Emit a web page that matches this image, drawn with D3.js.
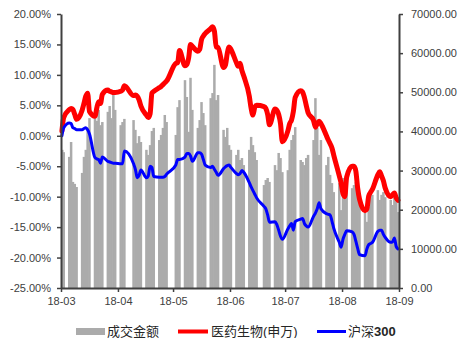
<!DOCTYPE html>
<html><head><meta charset="utf-8">
<script src="https://cdn.jsdelivr.net/npm/d3@7"></script>
<style>
html,body{margin:0;padding:0;background:#fff;}
svg{display:block;}
text{font-family:"Liberation Sans",Arial,"Noto Sans CJK SC",sans-serif;}
</style></head>
<body>
<svg id="chart" width="460" height="338"></svg>
<script>
// trading days (2018, month/day)
const dates = [
 "3/1","3/2","3/5","3/6","3/7","3/8","3/9","3/12","3/13","3/14","3/15","3/16","3/19","3/20","3/21","3/22","3/23","3/26","3/27","3/28","3/29","3/30",
 "4/2","4/3","4/4","4/9","4/10","4/11","4/12","4/13","4/16","4/17","4/18","4/19","4/20","4/23","4/24","4/25","4/26","4/27",
 "5/2","5/3","5/4","5/7","5/8","5/9","5/10","5/11","5/14","5/15","5/16","5/17","5/18","5/21","5/22","5/23","5/24","5/25","5/28","5/29","5/30","5/31",
 "6/1","6/4","6/5","6/6","6/7","6/8","6/11","6/12","6/13","6/14","6/15","6/19","6/20","6/21","6/22","6/25","6/26","6/27","6/28","6/29",
 "7/2","7/3","7/4","7/5","7/6","7/9","7/10","7/11","7/12","7/13","7/16","7/17","7/18","7/19","7/20","7/23","7/24","7/25","7/26","7/27","7/30","7/31",
 "8/1","8/2","8/3","8/6","8/7","8/8","8/9","8/10","8/13","8/14","8/15","8/16","8/17","8/20","8/21","8/22","8/23","8/24","8/27","8/28","8/29","8/30","8/31"
];
// 成交金额 (right axis)
const turnover = [
 35300,34700,33500,37300,27100,26600,25800,29400,33500,35300,40900,43400,43400,42700,45500,41600,42400,45000,46500,43400,49300,45500,
 41600,42400,43200,42900,40400,37000,38800,37300,35300,34000,36500,40100,40900,37800,39100,40900,44200,42400,
 39100,46200,48000,53100,48800,39900,53700,45500,40900,42900,47500,44700,41600,48500,49800,57000,48000,49300,40400,38600,40900,36500,
 35300,34000,35300,32700,33200,31400,35300,38600,36500,34700,32700,26300,27600,28100,27100,31400,30100,34500,33200,29600,
 30100,35300,37800,39100,41100,32700,32200,31400,33200,34000,37800,48500,40900,34000,37800,31400,33500,28900,26800,24500,26800,19900,
 28100,27100,25000,25500,26300,27100,23200,22500,19200,16900,20700,24300,23800,25000,22500,23800,24500,23200,22500,21200,23000,22500,19400
];
// 医药生物(申万) cumulative return, %
const pharma = [
 0.8,3.0,4.3,4.5,4.3,3.5,2.7,4.2,5.3,6.5,7.0,4.0,3.2,4.6,5.6,5.3,6.8,7.5,7.3,7.2,7.1,7.1,
 7.3,7.5,8.2,6.6,6.7,6.5,5.9,4.9,3.4,3.0,3.6,7.0,7.3,7.9,8.1,8.4,8.7,9.0,
 11.9,12.0,14.0,11.5,11.7,12.8,15.0,14.7,13.9,14.2,15.8,16.4,16.8,17.6,17.9,17.2,14.6,14.5,11.2,11.6,13.5,14.6,
 14.2,12.0,11.4,11.9,10.7,9.8,6.5,4.5,3.4,4.7,5.0,4.8,4.5,3.5,1.8,4.4,4.2,3.5,2.0,-1.0,
 0.8,2.0,2.6,4.0,6.3,7.4,7.2,6.3,5.0,3.8,2.5,1.4,2.0,2.4,2.0,0.0,-0.7,-1.3,-2.0,-3.2,-6.6,-7.8,
 -9.5,-10.0,-6.8,-5.0,-5.0,-5.8,-8.6,-10.4,-12.3,-12.0,-9.9,-9.3,-8.8,-6.4,-5.9,-6.6,-7.4,-8.6,-10.0,-9.7,-9.4,-10.2,-10.6
];
// 沪深300 cumulative return, %
const hs300 = [
 0.0,1.3,2.1,2.0,1.3,1.2,1.0,1.0,1.2,1.3,1.0,0.3,-3.6,-3.8,-3.9,-4.5,-3.5,-4.2,-4.3,-4.4,-4.5,-4.5,
 -4.6,-4.6,-2.5,-4.6,-5.5,-6.9,-6.5,-5.6,-6.9,-6.6,-5.0,-5.2,-6.7,-6.8,-6.8,-6.8,-6.7,-6.3,
 -4.8,-3.9,-3.9,-3.5,-2.9,-2.9,-3.3,-4.2,-2.8,-2.8,-3.0,-3.9,-4.8,-5.2,-5.0,-5.5,-6.0,-6.5,-5.4,-5.1,-4.9,-4.8,
 -5.2,-6.2,-6.4,-6.2,-5.7,-6.0,-7.7,-8.4,-9.0,-9.6,-10.2,-11.6,-12.0,-13.0,-14.2,-14.1,-14.6,-15.5,-16.5,-17.0,
 -15.3,-14.8,-14.4,-15.5,-14.1,-13.7,-13.6,-14.4,-14.8,-15.0,-13.2,-12.7,-12.0,-11.0,-12.0,-12.8,-12.9,-13.0,-14.0,-15.2,-17.5,-18.3,
 -17.0,-16.2,-15.6,-15.8,-16.2,-17.3,-18.5,-19.5,-19.7,-18.6,-17.9,-17.7,-17.5,-15.7,-15.5,-15.5,-16.2,-16.7,-17.5,-17.4,-16.8,-18.2,-18.6
];
const leftTicks = [-0.25,-0.20,-0.15,-0.10,-0.05,0,0.05,0.10,0.15,0.20];
const rightTicks = [0,10000,20000,30000,40000,50000,60000,70000];
const seriesNames = ["成交金额","医药生物(申万)","沪深300"];

const parse = d3.timeParse("%Y/%m/%d");
const days = dates.map(s => parse("2018/" + s));
const rows = days.map((d,i) => ({date:d, vol:turnover[i], ph:pharma[i]/100, hs:hs300[i]/100}));

const svg = d3.select("#chart");
const L = 61, R = 399, T = 14, B = 288;
const x = d3.scaleTime().domain([new Date(2018,2,1), new Date(2018,8,1)]).range([L, R]);
const dayW = x(new Date(2018,2,2)) - x(new Date(2018,2,1));
const barW = 2.5;
const yL = d3.scaleLinear().domain([-0.25, 0.20]).range([B, T]);
const yR = d3.scaleLinear().domain([0, 70000]).range([B, T]);

// bars
svg.append("g").selectAll("rect").data(rows).join("rect")
  .attr("x", d => Math.max(L, x(d.date) + dayW/2 - barW/2))
  .attr("width", barW)
  .attr("y", d => yR(d.vol))
  .attr("height", d => yR(0) - yR(d.vol))
  .attr("fill", "#ababab");

const lineGen = key => d3.line()
  .x(d => x(d.date) + dayW/2)
  .y(d => yL(d[key]))
  .curve(d3.curveMonotoneX);

svg.append("path").datum(rows).attr("d", lineGen("ph"))
  .attr("fill","none").attr("stroke","#ff0000").attr("stroke-width",5)
  .attr("stroke-linejoin","round").attr("stroke-linecap","round");
svg.append("path").datum(rows).attr("d", lineGen("hs"))
  .attr("fill","none").attr("stroke","#0000ff").attr("stroke-width",3)
  .attr("stroke-linejoin","round").attr("stroke-linecap","round");

const axisColor = "#404040";
function styleAxis(g){
  g.select(".domain").attr("stroke", axisColor).attr("stroke-width", 2);
  g.selectAll(".tick line").attr("stroke", axisColor).attr("stroke-width", 1.5);
  g.selectAll(".tick text").attr("fill", "#404040").style("font-size","11px")
   .style("font-family", '"Liberation Sans",Arial,sans-serif');
}

const pct = d => d3.format(".2%")(d).replace("\u2212","-");
svg.append("g").attr("transform", `translate(${L},0)`)
  .call(d3.axisLeft(yL).tickValues(leftTicks).tickFormat(pct).tickSizeInner(4).tickSizeOuter(0).tickPadding(6))
  .call(styleAxis);
svg.append("g").attr("transform", `translate(${R},0)`)
  .call(d3.axisRight(yR).tickValues(rightTicks).tickFormat(d3.format(".2f")).tickSizeInner(4).tickSizeOuter(0).tickPadding(8))
  .call(styleAxis);
svg.append("g").attr("transform", `translate(0,${B})`)
  .call(d3.axisBottom(x).ticks(d3.timeMonth.every(1)).tickFormat(d3.timeFormat("%y-%m")).tickSizeInner(4).tickSizeOuter(0).tickPadding(5))
  .call(styleAxis);

// legend
const lg = svg.append("g").style("font-family", '"Liberation Sans","Noto Sans CJK SC",sans-serif').style("font-size","13px");
const ly = 331.5;
lg.append("rect").attr("x",76).attr("y",ly-3.5).attr("width",29).attr("height",7).attr("fill","#ababab");
lg.append("text").attr("x",107).attr("y",ly).attr("dy","0.36em").attr("fill","#262626").text(seriesNames[0]);
lg.append("line").attr("x1",178).attr("x2",208).attr("y1",ly).attr("y2",ly).attr("stroke","#ff0000").attr("stroke-width",4);
lg.append("text").attr("x",211).attr("y",ly).attr("dy","0.36em").attr("fill","#262626").text(seriesNames[1]);
lg.append("line").attr("x1",317).attr("x2",346).attr("y1",ly).attr("y2",ly).attr("stroke","#0000ff").attr("stroke-width",3);
const t3 = lg.append("text").attr("x",348).attr("y",ly).attr("dy","0.36em").attr("fill","#262626");
t3.append("tspan").text("沪深");
t3.append("tspan").attr("font-weight","bold").text("300");
</script>
</body></html>
